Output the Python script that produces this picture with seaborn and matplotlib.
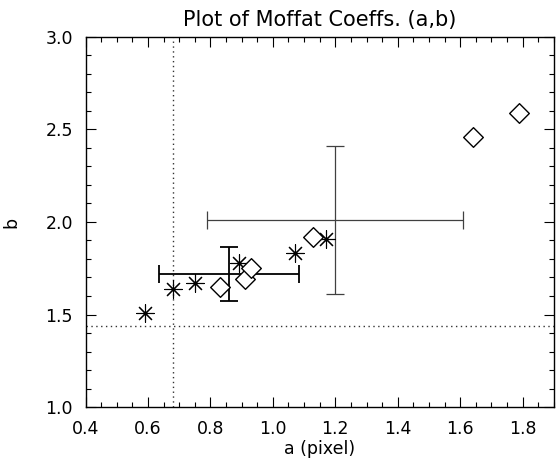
import matplotlib
matplotlib.use("Agg")
import matplotlib.pyplot as plt
import seaborn as sns
import pandas as pd
from matplotlib.ticker import MultipleLocator

# Moffat fit coefficients
star_a = [0.59, 0.68, 0.75, 0.89, 1.07, 1.17]
star_b = [1.51, 1.64, 1.67, 1.78, 1.83, 1.91]
diamond_a = [0.83, 0.91, 0.93, 1.13, 1.64, 1.79]
diamond_b = [1.65, 1.69, 1.75, 1.92, 2.46, 2.59]

# mean values with their spreads
mean_a = [0.86, 1.20]
mean_b = [1.72, 2.01]
err_a = [0.224, 0.41]
err_b = [0.147, 0.40]

# reference levels
ref_a = 0.68
ref_b = 1.44

x_ticks = [0.4, 0.6, 0.8, 1.0, 1.2, 1.4, 1.6, 1.8]
y_ticks = [1.0, 1.5, 2.0, 2.5, 3.0]

sns.set_style("ticks")
plt.rcParams["font.family"] = ["DejaVu Sans"]
plt.rcParams["text.color"] = "black"
plt.rcParams["axes.labelcolor"] = "black"
plt.rcParams["xtick.color"] = "black"
plt.rcParams["ytick.color"] = "black"

fig = plt.figure(figsize=(5.56, 4.61), dpi=100)
ax = fig.add_axes([0.154, 0.117, 0.842, 0.803])

stars = pd.DataFrame({"a": star_a, "b": star_b})
diamonds = pd.DataFrame({"a": diamond_a, "b": diamond_b})

sns.scatterplot(data=stars, x="a", y="b", ax=ax, marker=(8, 2, 0), s=160,
                color="black", linewidth=0.8, zorder=3)
sns.scatterplot(data=diamonds, x="a", y="b", ax=ax, marker="D", s=100,
                facecolor="white", edgecolor="black", linewidth=1.0, zorder=4)

for xa, yb, ea, eb, c, lw in zip(mean_a, mean_b, err_a, err_b,
                                 ["black", "#404040"], [1.3, 0.9]):
    ax.errorbar(xa, yb, xerr=ea, yerr=eb, fmt="none", ecolor=c,
                elinewidth=lw, capsize=6.8, capthick=lw, zorder=2)

ax.axvline(ref_a, color="#333333", linestyle=(0, (1, 2.5)), linewidth=1.0, zorder=1)
ax.axhline(ref_b, color="#333333", linestyle=(0, (1, 2.5)), linewidth=1.0, zorder=1)

ax.set_xlim(0.4, 1.9)
ax.set_ylim(1.0, 3.0)
ax.set_xticks(x_ticks)
ax.set_yticks(y_ticks)
ax.set_xticklabels([f"{v:.1f}" for v in x_ticks])
ax.set_yticklabels([f"{v:.1f}" for v in y_ticks])
ax.xaxis.set_minor_locator(MultipleLocator(0.05))
ax.yaxis.set_minor_locator(MultipleLocator(0.1))
ax.tick_params(which="both", direction="in", top=True, right=True,
               color="black", width=0.8)
ax.tick_params(which="major", length=7, labelsize=12.5, pad=9)
ax.tick_params(which="minor", length=3.5)
for sp in ax.spines.values():
    sp.set_linewidth(1.0)
    sp.set_color("black")

ax.set_xlabel("a (pixel)", fontsize=12.5, labelpad=2)
ax.set_ylabel("b", fontsize=12.5, labelpad=18)
ax.set_title("Plot of Moffat Coeffs. (a,b)", fontsize=15, pad=8)

fig.savefig("out.png", dpi=100)
